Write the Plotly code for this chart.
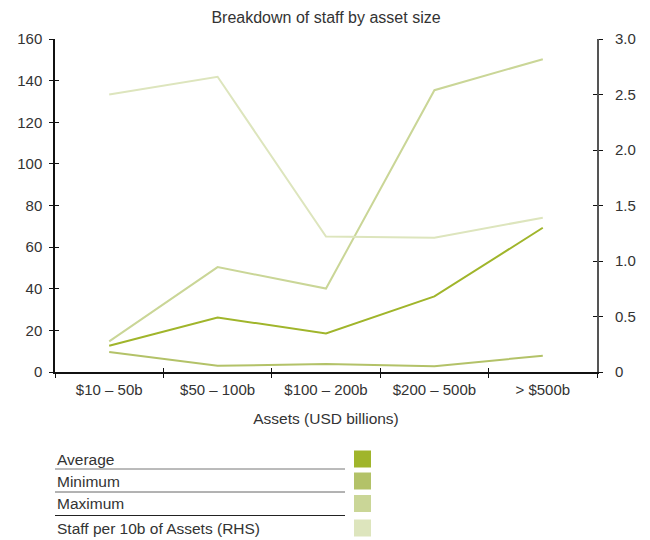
import plotly.graph_objects as go

# ---- data -------------------------------------------------------------
categories = ["$10 – 50b", "$50 – 100b", "$100 – 200b", "$200 – 500b", "> $500b"]
average = [12.6, 26.2, 18.5, 36.3, 69.3]
minimum = [9.6, 3.0, 3.8, 2.8, 7.8]
maximum = [14.7, 50.4, 40.1, 135.4, 150.3]
staff_per_10b = [2.50, 2.66, 1.22, 1.21, 1.39]

left_ticks = [0, 20, 40, 60, 80, 100, 120, 140, 160]
right_tickvals = [0, 0.5, 1.0, 1.5, 2.0, 2.5, 3.0]
right_ticktext = ["0", "0.5", "1.0", "1.5", "2.0", "2.5", "3.0"]

series_names = ["Average", "Minimum", "Maximum", "Staff per 10b of Assets (RHS)"]
series_colors = ["#a0b52b", "#b3c268", "#cad697", "#dde5bd"]

FONT = "Liberation Sans, Arial, Helvetica, sans-serif"
TEXT = "#333333"

# ---- figure geometry (pixels) ----------------------------------------
W, H = 650, 540
ML, MR, MT, MB = 55, 53, 39, 168
PW, PH = W - ML - MR, H - MT - MB


def px_x(x):
    return (x - ML) / PW


def px_y(y):
    return (H - MB - y) / PH


fig = go.Figure()

for name, vals, col in zip(series_names[:3], [average, minimum, maximum], series_colors[:3]):
    fig.add_trace(go.Scatter(x=categories, y=vals, mode="lines", name=name,
                             line=dict(color=col, width=2), showlegend=False))

fig.add_trace(go.Scatter(x=categories, y=staff_per_10b, mode="lines", name=series_names[3],
                         line=dict(color=series_colors[3], width=2), yaxis="y2",
                         showlegend=False))

# empty traces that carry the inward half of the crossing tick marks
fig.add_trace(go.Scatter(x=categories, y=[None] * len(categories), xaxis="x2", yaxis="y3",
                         showlegend=False, hoverinfo="skip"))
fig.add_trace(go.Scatter(x=categories, y=[None] * len(categories), xaxis="x2", yaxis="y4",
                         showlegend=False, hoverinfo="skip"))

tickfont = dict(family=FONT, size=15, color=TEXT)
xcommon = dict(type="category", categoryorder="array", categoryarray=categories,
               range=[-0.5, len(categories) - 0.5], tickson="boundaries",
               ticklen=4, tickwidth=1.2, tickcolor="#111", showgrid=False, zeroline=False,
               fixedrange=True)

fig.update_layout(
    width=W, height=H,
    margin=dict(l=ML, r=MR, t=MT, b=MB),
    paper_bgcolor="white", plot_bgcolor="white",
    font=dict(family=FONT, color=TEXT),
    title=dict(text="Breakdown of staff by asset size", x=0.5, xref="paper",
               y=1 - 17 / H, yref="container", xanchor="center", yanchor="middle",
               font=dict(family=FONT, size=16, color=TEXT)),
    xaxis=dict(**xcommon, ticks="outside", showline=True, linecolor="#111", linewidth=1.5,
               tickfont=tickfont, ticklabelstandoff=3,
               title=dict(text="Assets (USD billions)", standoff=16,
                          font=dict(family=FONT, size=15.5, color=TEXT))),
    xaxis2=dict(**xcommon, ticks="inside", overlaying="x", showticklabels=False,
                showline=False, anchor="y"),
    yaxis=dict(range=[0, 160], tickvals=left_ticks, ticks="outside", ticklen=4,
               tickwidth=1.2, tickcolor="#111", showline=True, linecolor="#111",
               linewidth=1.5, showgrid=False, zeroline=False, tickfont=tickfont,
               ticklabelstandoff=4, fixedrange=True),
    yaxis2=dict(range=[0, 3], tickvals=right_tickvals, ticktext=right_ticktext,
                overlaying="y", side="right", anchor="x", ticks="outside", ticklen=4,
                tickwidth=1.2, tickcolor="#111", showline=True, linecolor="#555",
                linewidth=2, showgrid=False, zeroline=False, tickfont=tickfont,
                ticklabelstandoff=9, fixedrange=True),
    yaxis3=dict(range=[0, 160], tickvals=left_ticks, ticks="inside", ticklen=4,
                tickwidth=1.2, tickcolor="#111", overlaying="y", side="left", anchor="x2",
                showticklabels=False, showgrid=False, zeroline=False, showline=False),
    yaxis4=dict(range=[0, 3], tickvals=right_tickvals, ticks="inside", ticklen=4,
                tickwidth=1.2, tickcolor="#111", overlaying="y", side="right", anchor="x2",
                showticklabels=False, showgrid=False, zeroline=False, showline=False),
    showlegend=False,
)

# ---- legend block: label, rule beneath, colour swatch on the right ----
row_centers = [459, 481, 503.5, 528]
rule_ys = [469, 492, 515.5]
rule_colors = ["#777777", "#666666", "#222222"]
sw_x0, sw_x1 = 354, 371

shapes = []
annotations = []
for i, (name, col, yc) in enumerate(zip(series_names, series_colors, row_centers)):
    annotations.append(dict(text=name, x=px_x(55), y=px_y(yc), xref="paper", yref="paper",
                            xanchor="left", yanchor="middle", showarrow=False,
                            font=dict(family=FONT, size=15.5, color=TEXT)))
    shapes.append(dict(type="rect", xref="paper", yref="paper",
                       x0=px_x(sw_x0), x1=px_x(sw_x1),
                       y0=px_y(yc - 8.5), y1=px_y(yc + 8.5),
                       fillcolor=col, line=dict(width=0)))
for yr, rc in zip(rule_ys, rule_colors):
    shapes.append(dict(type="line", xref="paper", yref="paper",
                       x0=px_x(55), x1=px_x(345), y0=px_y(yr), y1=px_y(yr),
                       line=dict(color=rc, width=1)))

fig.update_layout(shapes=shapes, annotations=annotations)

fig.write_html("out.html")
